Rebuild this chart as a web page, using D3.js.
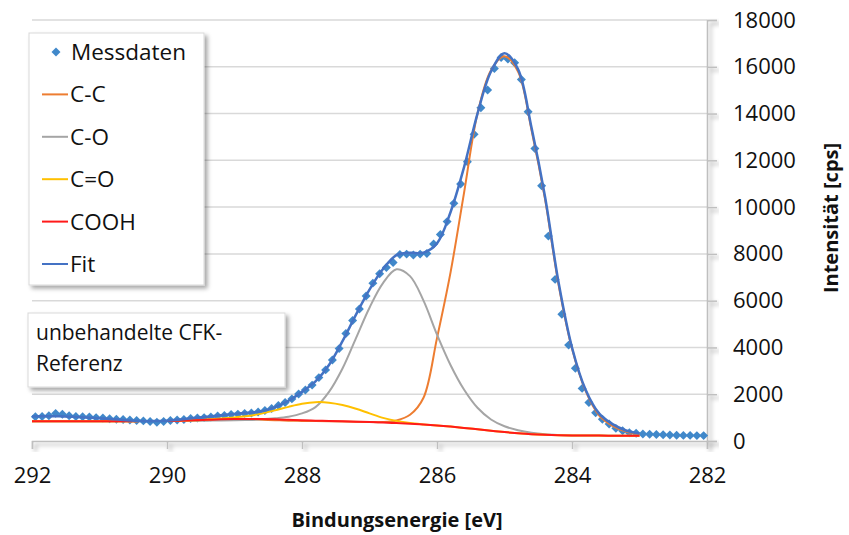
<!DOCTYPE html>
<html>
<head>
<meta charset="utf-8">
<script src="https://cdn.jsdelivr.net/npm/d3@7"></script>
<style>
  body { margin: 0; background: #fff; }
  text { font-family: "Open Sans", "Noto Sans", sans-serif; fill: #111; }
</style>
</head>
<body>
<div id="chart"></div>
<script>
// ==============================
// Data
// ==============================
// Messdaten: binding energy (eV) and counts
var messEnergie = [
  291.95, 291.85, 291.75, 291.65, 291.55, 291.45, 291.35, 291.25, 291.15, 291.05,
  290.95, 290.85, 290.75, 290.65, 290.55, 290.45, 290.35, 290.25, 290.15, 290.05,
  289.95, 289.85, 289.75, 289.65, 289.55, 289.45, 289.35, 289.25, 289.15, 289.05,
  288.95, 288.85, 288.75, 288.65, 288.55, 288.45, 288.35, 288.25, 288.15, 288.05,
  287.95, 287.85, 287.75, 287.65, 287.55, 287.45, 287.35, 287.25, 287.15, 287.05,
  286.95, 286.85, 286.75, 286.65, 286.55, 286.45, 286.35, 286.25, 286.15, 286.05,
  285.95, 285.85, 285.75, 285.65, 285.55, 285.45, 285.35, 285.25, 285.15, 285.05,
  284.95, 284.85, 284.75, 284.65, 284.55, 284.45, 284.35, 284.25, 284.15, 284.05,
  283.95, 283.85, 283.75, 283.65, 283.55, 283.45, 283.35, 283.25, 283.15, 283.05,
  282.95, 282.85, 282.75, 282.65, 282.55, 282.45, 282.35, 282.25, 282.15, 282.05
];
var messdaten = [
  1040, 1050, 1080, 1180, 1140, 1080, 1050, 1040, 1030, 1000,
  980, 950, 930, 920, 900, 880, 860, 830, 800, 830,
  880, 900, 920, 960, 980, 1000, 1030, 1070, 1090, 1130,
  1150, 1180, 1200, 1240, 1300, 1390, 1520, 1650, 1800, 2010,
  2180, 2390, 2710, 3040, 3460, 3950, 4600, 5150, 5640, 6200,
  6750, 7150, 7420, 7630, 7970, 7990, 7950, 7990, 8020, 8420,
  8830, 9380, 10160, 10990, 11940, 13110, 14250, 15010, 15930, 16400,
  16330, 16170, 15460, 14080, 12510, 10910, 8760, 6910, 5420, 4100,
  3110, 2250, 1650, 1210, 930, 730, 540, 440, 350, 330,
  300, 290, 280, 270, 260, 250, 240, 240, 230, 230
];

// fitted components (0.2 eV steps, 292 -> 283)
var fitEnergie = [
  292.0, 291.8, 291.6, 291.4, 291.2, 291.0, 290.8, 290.6, 290.4, 290.2,
  290.0, 289.8, 289.6, 289.4, 289.2, 289.0, 288.8, 288.6, 288.4, 288.2,
  288.0, 287.8, 287.6, 287.4, 287.2, 287.0, 286.8, 286.6, 286.4, 286.2,
  286.0, 285.8, 285.6, 285.4, 285.2, 285.0, 284.8, 284.6, 284.4, 284.2,
  284.0, 283.8, 283.6, 283.4, 283.2, 283.0
];
var cc = [
  840, 840, 840, 840, 840, 840, 845, 845, 850, 855,
  860, 870, 885, 905, 925, 940, 930, 910, 890, 870,
  860, 850, 840, 830, 820, 810, 810, 880, 1120, 1850,
  4400, 7200, 10600, 14000, 15850, 16450, 15800, 13300, 10350, 6700,
  3950, 2150, 1100, 650, 400, 290
];
var co = [
  840, 840, 840, 840, 840, 840, 845, 845, 850, 850,
  855, 860, 865, 870, 875, 885, 900, 925, 970, 1040,
  1180, 1450, 2100, 3100, 4400, 5700, 6750, 7340, 7050, 6000,
  4550, 3250, 2200, 1420, 920, 630, 460, 350, 285, 255,
  240, 235, 230, 228, 226, 225
];
var cdo = [
  840, 840, 840, 840, 840, 840, 845, 845, 850, 855,
  860, 870, 885, 920, 960, 1010, 1070, 1170, 1310, 1460,
  1590, 1660, 1640, 1540, 1380, 1180, 990, 860, 770, 710,
  660, 615, 560, 500, 440, 380, 330, 290, 265, 250,
  240, 235, 230, 228, 226, 225
];
var cooh = [
  840, 840, 840, 840, 840, 840, 845, 845, 850, 855,
  860, 870, 885, 905, 925, 940, 945, 940, 925, 905,
  885, 870, 855, 840, 825, 810, 790, 765, 740, 705,
  665, 615, 560, 500, 440, 380, 330, 290, 265, 250,
  240, 235, 230, 228, 226, 225
];
var fit = [
  1050, 1060, 1060, 1040, 1010, 970, 930, 890, 860, 850,
  870, 920, 980, 1040, 1100, 1160, 1210, 1270, 1450, 1720,
  2100, 2550, 3250, 4270, 5400, 6470, 7350, 7950, 8050, 8050,
  8450, 9780, 11700, 14000, 15800, 16580, 15900, 13400, 10450, 6800,
  4000, 2200, 1180, 720, 450, 320
];

var xTicks = [292, 290, 288, 286, 284, 282];
var yTicks = [0, 2000, 4000, 6000, 8000, 10000, 12000, 14000, 16000, 18000];

var seriesNames = ["C-C", "C-O", "C=O", "COOH", "Fit"];
var seriesColors = ["#ed7d31", "#a5a5a5", "#ffc000", "#ff1a1a", "#4472c4"];
var seriesData = [cc, co, cdo, cooh, fit];
var markerColor = "#4088ca";

// ==============================
// Chart setup
// ==============================
var svgWidth = 849, svgHeight = 535;
var plot = { left: 32, right: 707, top: 20, bottom: 441 };

var svg = d3.select("#chart")
  .append("svg")
  .attr("width", svgWidth)
  .attr("height", svgHeight);

var defs = svg.append("defs");
var shadow = defs.append("filter").attr("id", "shadow")
  .attr("x", "-10%").attr("y", "-10%").attr("width", "130%").attr("height", "140%");
shadow.append("feDropShadow")
  .attr("dx", 3).attr("dy", 3).attr("stdDeviation", 2)
  .attr("flood-color", "#000").attr("flood-opacity", 0.35);

var x = d3.scaleLinear().domain([292, 282]).range([plot.left, plot.right]);
var y = d3.scaleLinear().domain([0, 18000]).range([plot.bottom, plot.top]);

// gridlines
svg.append("g").selectAll("line")
  .data(yTicks.slice(1))
  .enter()
  .append("line")
  .attr("x1", plot.left).attr("x2", plot.right)
  .attr("y1", d => y(d)).attr("y2", d => y(d))
  .attr("stroke", "#d9d9d9").attr("stroke-width", 1.5);

// axes
var xAxis = svg.append("g")
  .attr("transform", `translate(0, ${plot.bottom})`)
  .attr("filter", "url(#shadow)")
  .call(d3.axisBottom(x).tickValues(xTicks).tickSize(8).tickPadding(18).tickFormat(d3.format("d")));

var yAxis = svg.append("g")
  .attr("transform", `translate(${plot.right}, 0)`)
  .attr("filter", "url(#shadow)")
  .call(d3.axisRight(y).tickValues(yTicks).tickSize(10).tickPadding(16).tickFormat(d3.format("d")));

[xAxis, yAxis].forEach(function(ax) {
  ax.select(".domain").attr("stroke", "#bfbfbf").attr("stroke-width", 1.5);
  ax.selectAll(".tick line").attr("stroke", "#bfbfbf").attr("stroke-width", 1.5);
});

// text should not carry the shadow: move labels out of the filtered groups
function liftLabels(ax, anchor) {
  var holder = svg.append("g").attr("transform", ax.attr("transform"));
  ax.selectAll(".tick").each(function() {
    var t = d3.select(this);
    var tr = t.attr("transform");
    var txt = t.select("text").remove();
    holder.append(() => txt.node())
      .attr("transform", tr)
      .attr("text-anchor", anchor)
      .attr("font-size", 22)
      .attr("fill", "#111");
  });
}
liftLabels(xAxis, "middle");
liftLabels(yAxis, "start");

// ==============================
// Messdaten markers
// ==============================
var diamond = d3.symbol().type(d3.symbolSquare).size(40);
svg.append("g").selectAll("path")
  .data(messdaten)
  .enter()
  .append("path")
  .attr("d", diamond)
  .attr("transform", (d, i) => `translate(${x(messEnergie[i])}, ${y(d)}) rotate(45)`)
  .attr("fill", markerColor);

// ==============================
// fitted curves
// ==============================
var line = d3.line()
  .x((d, i) => x(fitEnergie[i]))
  .y(d => y(d))
  .curve(d3.curveCatmullRom.alpha(0.5));

svg.append("g").selectAll("path")
  .data(seriesData)
  .enter()
  .append("path")
  .attr("d", line)
  .attr("fill", "none")
  .attr("stroke", (d, i) => seriesColors[i])
  .attr("stroke-width", (d, i) => i === 4 ? 2.5 : 2);

// ==============================
// Legend
// ==============================
var legend = svg.append("g");
legend.append("rect")
  .attr("x", 29).attr("y", 33).attr("width", 175).attr("height", 252)
  .attr("fill", "#fff").attr("stroke", "#d9d9d9")
  .attr("filter", "url(#shadow)");

var legendNames = ["Messdaten"].concat(seriesNames);
var rowY = d3.scaleLinear().domain([0, 5]).range([52, 264]);
legendNames.forEach(function(name, i) {
  var cy = rowY(i);
  if (i === 0) {
    legend.append("path")
      .attr("d", diamond)
      .attr("transform", `translate(56, ${cy}) rotate(45)`)
      .attr("fill", markerColor);
  } else {
    legend.append("line")
      .attr("x1", 42).attr("x2", 68)
      .attr("y1", cy).attr("y2", cy)
      .attr("stroke", seriesColors[i - 1]).attr("stroke-width", 2);
  }
  legend.append("text")
    .attr("x", i === 0 ? 71 : 70)
    .attr("y", cy + 8)
    .attr("font-size", 22.5)
    .text(name);
});

// annotation box
var note = svg.append("g");
note.append("rect")
  .attr("x", 28).attr("y", 313).attr("width", 257).attr("height", 74)
  .attr("fill", "#fff").attr("stroke", "#d9d9d9")
  .attr("filter", "url(#shadow)");
note.append("text").attr("x", 36).attr("y", 340).attr("font-size", 21).text("unbehandelte CFK-");
note.append("text").attr("x", 36).attr("y", 371).attr("font-size", 21).text("Referenz");

// axis titles
svg.append("text")
  .attr("x", 397).attr("y", 527)
  .attr("text-anchor", "middle")
  .attr("font-size", 20).attr("font-weight", "bold")
  .text("Bindungsenergie [eV]");

svg.append("text")
  .attr("transform", "translate(830, 218) rotate(-90)")
  .attr("text-anchor", "middle")
  .attr("dominant-baseline", "central")
  .attr("font-size", 20).attr("font-weight", "bold")
  .text("Intensität [cps]");
</script>
</body>
</html>
